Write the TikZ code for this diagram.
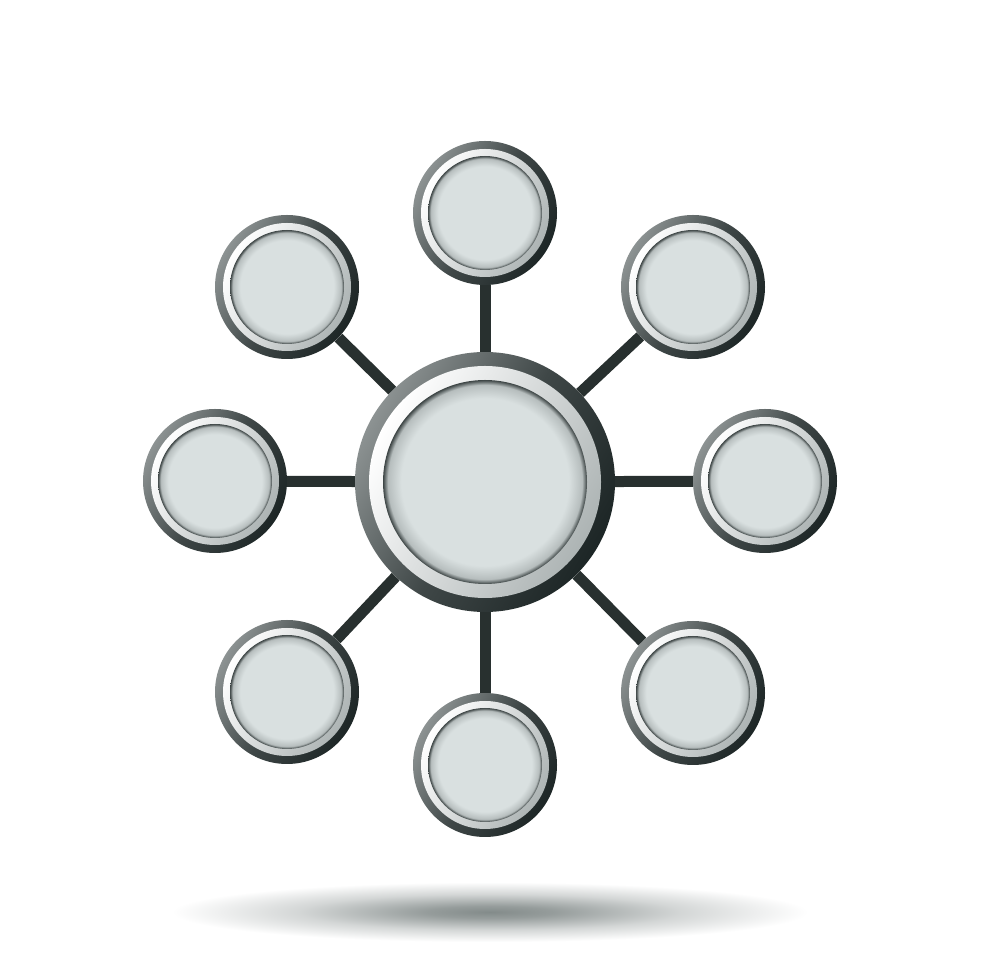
\documentclass[tikz,border=0pt]{standalone}
\definecolor{ringdark}{HTML}{1D2626}
\definecolor{ringmid}{HTML}{3F4747}
\definecolor{ringlight}{HTML}{8C9292}
\definecolor{bandgray}{HTML}{ADB4B4}
\definecolor{diskgray}{HTML}{D9E0E0}
\definecolor{diskedge}{HTML}{3C4444}
\definecolor{spokecol}{HTML}{28302F}
\definecolor{floorgray}{HTML}{838B8A}
\pgfdeclareradialshading{diskglow}{\pgfpoint{0bp}{0bp}}{color(0bp)=(diskgray); color(20.5bp)=(diskgray); color(23.8bp)=(diskgray!78!diskedge); color(25bp)=(diskedge); color(50bp)=(diskedge)}
\pgfdeclareradialshading{floorshade}{\pgfpoint{0bp}{0bp}}{color(0bp)=(floorgray); color(5bp)=(floorgray!85!white); color(15bp)=(floorgray!35!white); color(25bp)=(white); color(50bp)=(white)}
\tikzset{
  rim/.style={circle, inner sep=0pt, minimum size=#1, left color=ringlight, right color=ringdark, middle color=ringmid, shading angle=60},
  band/.style={left color=white, right color=bandgray, shading angle=60},
  face/.style={shading=diskglow},
  spoke/.style={draw=spokecol, line width=11pt}
}
\begin{document}
\begin{tikzpicture}[x=1pt,y=1pt]
\useasboundingbox (0,0) rectangle (980,980);
\fill[white] (0,0) rectangle (980,980);
\shade[shading=floorshade] (490,68) ellipse (318 and 30);
\node[rim=260] (hub) at (485,498) {};
\shade[band] (hub.center) circle (116);
\shade[face] (hub.center) circle (102);
\foreach \nm/\x/\y in {top/485/767, topright/693/693, right/765/499, botright/693/287,
  bot/485/215, botleft/287/288, left/215/499, topleft/287/693} {
  \node[rim=144] (\nm) at (\x,\y) {};
  \shade[band] (\nm.center) circle (64);
  \shade[face] (\nm.center) circle (57);
  \draw[spoke] (hub) -- (\nm);
}
\end{tikzpicture}
\end{document}
